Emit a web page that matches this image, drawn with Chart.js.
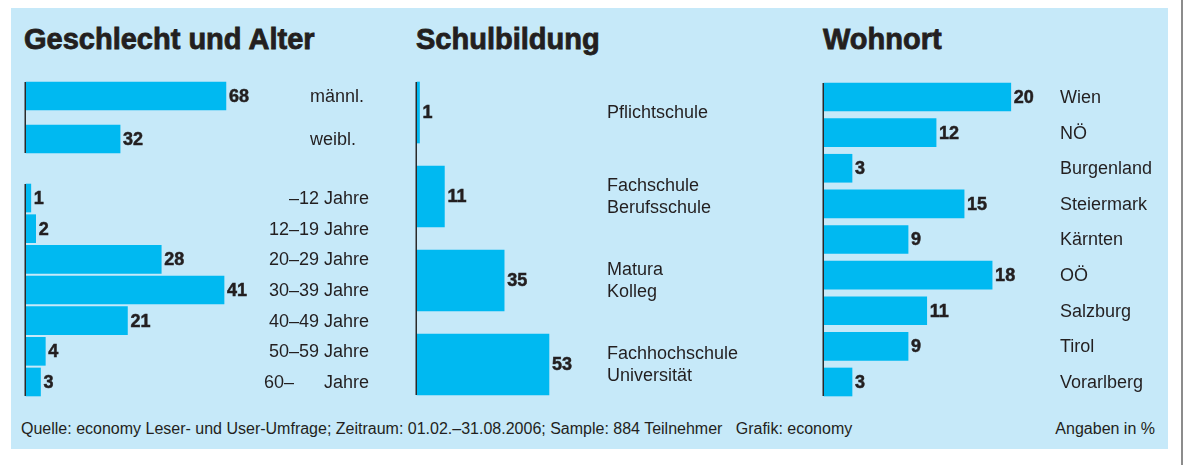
<!DOCTYPE html>
<html>
<head>
<meta charset="utf-8">
<script src="https://cdn.jsdelivr.net/npm/chart.js@4/dist/chart.umd.min.js"></script>
<style>
  body { margin: 0; background: #ffffff; width: 1185px; height: 465px; position: relative; overflow: hidden; font-family: "Liberation Sans", Arial, sans-serif; }
  #panel { position: absolute; left: 11px; top: 8px; width: 1157px; height: 441px; background: #c6e9f9; }
  #edge { position: absolute; left: 1181px; top: 0; width: 2px; height: 465px; background: #8c8c8c; }
  .title { position: absolute; top: 25px; font-weight: bold; font-size: 29px; line-height: 29px; color: #231f20; -webkit-text-stroke: 0.8px #231f20; white-space: nowrap; }
  .foot { position: absolute; top: 421px; font-size: 16px; line-height: 16px; color: #231f20; white-space: pre; }
  canvas { position: absolute; left: 0; top: 0; }
</style>
</head>
<body>
<div id="panel"></div>
<div id="edge"></div>
<div class="title" style="left:24px">Geschlecht und Alter</div>
<div class="title" style="left:416px">Schulbildung</div>
<div class="title" style="left:823px">Wohnort</div>
<div class="foot" id="source" style="left:21px">Quelle: economy Leser- und User-Umfrage; Zeitraum: 01.02.–31.08.2006; Sample: 884 Teilnehmer   Grafik: economy</div>
<div class="foot" style="right:30px">Angaben in %</div>

<canvas id="genderChart" width="1185" height="465"></canvas>
<canvas id="ageChart" width="1185" height="465"></canvas>
<canvas id="schoolChart" width="1185" height="465"></canvas>
<canvas id="regionChart" width="1185" height="465"></canvas>

<script>
// Data (all values in %)
const genderLabels = ['männl.', 'weibl.'];
const genderValues = [68, 32];

const ageLabels = ['–12 Jahre', '12–19 Jahre', '20–29 Jahre', '30–39 Jahre', '40–49 Jahre', '50–59 Jahre', '60–      Jahre'];
const ageValues = [1, 2, 28, 41, 21, 4, 3];

const schoolLabels = [['Pflichtschule'], ['Fachschule', 'Berufsschule'], ['Matura', 'Kolleg'], ['Fachhochschule', 'Universität']];
const schoolValues = [1, 11, 35, 53];

const regionLabels = ['Wien', 'NÖ', 'Burgenland', 'Steiermark', 'Kärnten', 'OÖ', 'Salzburg', 'Tirol', 'Vorarlberg'];
const regionValues = [20, 12, 3, 15, 9, 18, 11, 9, 3];

const barColor = '#00b9f1';
const textColor = '#231f20';

// Plugin: axis line along the bars, value labels at bar ends, category labels in a column
const labelPlugin = {
    id: 'panelLabels',
    afterDatasetsDraw(chart, args, opts) {
        const c = chart.ctx;
        const meta = chart.getDatasetMeta(0);
        const bars = meta.data;
        const area = chart.chartArea;
        const first = bars[0], last = bars[bars.length - 1];
        c.save();
        // axis line
        c.strokeStyle = '#2a2a2a';
        c.lineWidth = 1.5;
        c.beginPath();
        c.moveTo(area.left - 0.75, first.y - first.height / 2);
        c.lineTo(area.left - 0.75, last.y + last.height / 2);
        c.stroke();

        c.fillStyle = textColor;
        c.strokeStyle = textColor;
        c.textBaseline = 'middle';
        bars.forEach((bar, i) => {
            // value label (slightly heavier, like the print original)
            c.font = 'bold 18px "Liberation Sans", Arial, sans-serif';
            c.textAlign = 'left';
            c.lineWidth = 0.5;
            const v = String(chart.data.datasets[0].data[i]);
            c.fillText(v, bar.x + 3, bar.y + 1);
            c.strokeText(v, bar.x + 3, bar.y + 1);
            // category label (possibly multi-line)
            c.font = '18px "Liberation Sans", Arial, sans-serif';
            c.textAlign = opts.align;
            let lines = chart.data.labels[i];
            if (!Array.isArray(lines)) lines = [lines];
            const lh = 22;
            lines.forEach((ln, k) => {
                c.fillText(ln, opts.x, bar.y + 1 + (k - (lines.length - 1) / 2) * lh);
            });
        });
        c.restore();
    }
};

// Build one horizontal bar chart; padding places the chart area on the page
function makeChart(id, labels, values, cfg) {
    return new Chart(document.getElementById(id).getContext('2d'), {
        type: 'bar',
        data: {
            labels: labels,
            datasets: [{
                data: values,
                backgroundColor: barColor,
                borderWidth: 0,
                barThickness: cfg.thickness,
                clip: false
            }]
        },
        options: {
            indexAxis: 'y',
            responsive: false,
            animation: false,
            events: [],
            layout: { padding: { left: cfg.left, right: 1185 - cfg.right, top: cfg.top, bottom: 465 - cfg.bottom } },
            scales: {
                x: { display: false, min: 0, max: cfg.max },
                y: { display: false }
            },
            plugins: {
                legend: { display: false },
                tooltip: { enabled: false },
                panelLabels: { x: cfg.labelX, align: cfg.labelAlign }
            }
        },
        plugins: [labelPlugin]
    });
}

makeChart('genderChart', genderLabels, genderValues,
    { left: 26, right: 320, top: 74.5, bottom: 160.5, max: 100, thickness: 28, labelX: 310, labelAlign: 'left' });
makeChart('ageChart', ageLabels, ageValues,
    { left: 26, right: 267.5, top: 182.7, bottom: 397.3, max: 50, thickness: 28, labelX: 369, labelAlign: 'right' });
makeChart('schoolChart', schoolLabels, schoolValues,
    { left: 417, right: 666, top: 70.5, bottom: 406.5, max: 100, thickness: 61, labelX: 607, labelAlign: 'left' });
makeChart('regionChart', regionLabels, regionValues,
    { left: 824, right: 1057.5, top: 79.2, bottom: 399.8, max: 25, thickness: 28, labelX: 1060, labelAlign: 'left' });
</script>
</body>
</html>
